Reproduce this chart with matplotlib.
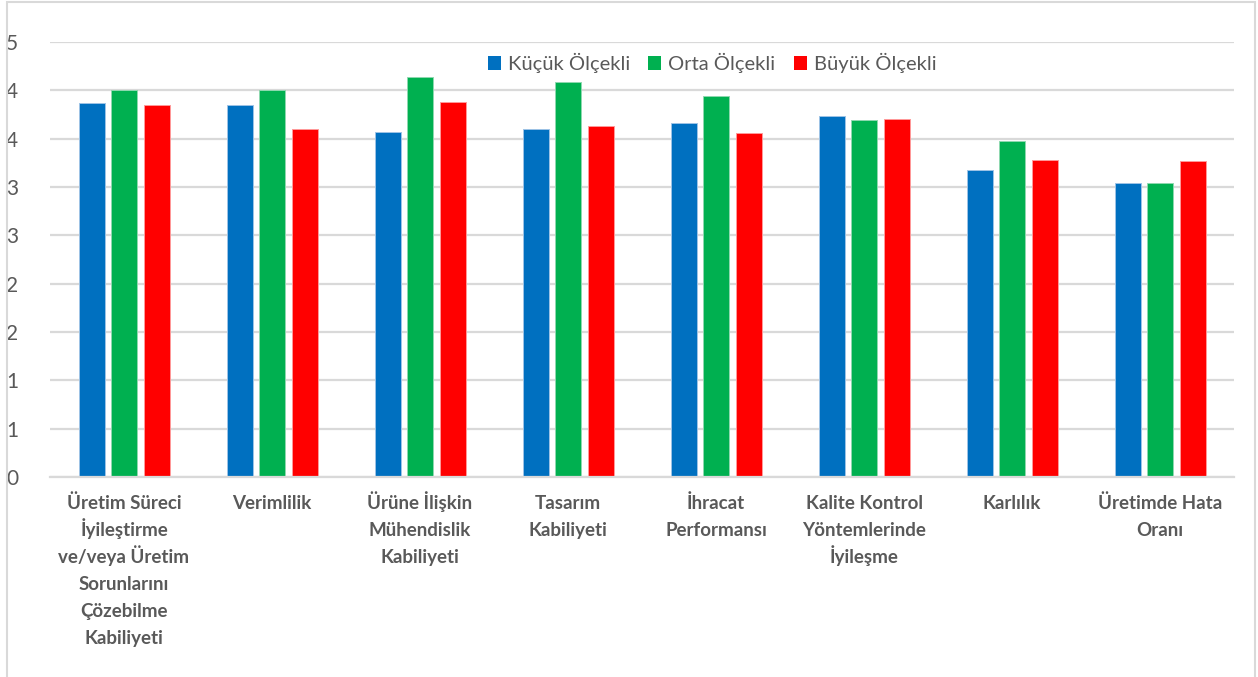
import matplotlib
matplotlib.use("Agg")
import matplotlib.pyplot as plt
from matplotlib.patches import Rectangle, Patch
import numpy as np

categories = [
    "Üretim Süreci\nİyileştirme\nve/veya Üretim\nSorunlarını\nÇözebilme\nKabiliyeti",
    "Verimlilik",
    "Ürüne İlişkin\nMühendislik\nKabiliyeti",
    "Tasarım\nKabiliyeti",
    "İhracat\nPerformansı",
    "Kalite Kontrol\nYöntemlerinde\nİyileşme",
    "Karlılık",
    "Üretimde Hata\nOranı",
]
series_names = ["Küçük Ölçekli", "Orta Ölçekli", "Büyük Ölçekli"]
kucuk = [3.87, 3.85, 3.57, 3.60, 3.66, 3.73, 3.18, 3.04]
orta = [4.00, 4.00, 4.14, 4.09, 3.94, 3.69, 3.48, 3.04]
buyuk = [3.85, 3.60, 3.88, 3.63, 3.56, 3.70, 3.28, 3.27]
ytick_values = [0, 0.5, 1.0, 1.5, 2.0, 2.5, 3.0, 3.5, 4.0, 4.5]
ytick_labels = ["0", "1", "1", "2", "2", "3", "3", "4", "4", "5"]

colors = ["#0070C0", "#00B050", "#FF0000"]
edges = ["#9DC3E6", "#8FD9B0", "#FF9999"]
text_color = "#595959"
grid_color = "#D9D9D9"
font = ["Lato", "DejaVu Sans"]

W, H = 1258, 677
fig = plt.figure(figsize=(W / 100, H / 100), dpi=100)
ax = fig.add_axes([50 / W, (H - 477) / H, (1234 - 50) / W, (477 - 42) / H])

x = np.arange(len(categories))
bw = 26 / 148
off = 32.5 / 148
for i, (vals, c, e) in enumerate(zip([kucuk, orta, buyuk], colors, edges)):
    ax.bar(x + (i - 1) * off, vals, width=bw, color=c, edgecolor=e,
           linewidth=0.7, zorder=3)

ax.set_xlim(-0.5, len(categories) - 0.5)
ax.set_ylim(0, 4.5)
ax.set_yticks(ytick_values)
ax.set_yticklabels(ytick_labels, fontsize=15, color=text_color, family=font)
ax.yaxis.grid(True, color=grid_color, linewidth=1.6, zorder=0)
ax.tick_params(axis="y", length=0, pad=23)
ax.set_xticks(x)
ax.set_xticklabels([])
ax.tick_params(axis="x", length=0)

# category labels, one line at a time for even baseline spacing
line_px = 27
first_px = 32
for xi, label in zip(x, categories):
    for j, line in enumerate(label.split("\n")):
        ax.annotate(line, xy=(xi, 0), xycoords=("data", "axes fraction"),
                    xytext=(0, -(first_px + j * line_px) * 0.72),
                    textcoords="offset points", ha="center", va="baseline",
                    fontsize=13.5, fontweight="bold", color=text_color,
                    family=font, annotation_clip=False)

for s in ["top", "right", "left"]:
    ax.spines[s].set_visible(False)
ax.spines["bottom"].set_color(grid_color)
ax.spines["bottom"].set_linewidth(1.6)
ax.spines["bottom"].set_zorder(4)

handles = [Patch(facecolor=c, edgecolor="none") for c in colors]
fig.legend(handles, series_names, loc="center", bbox_to_anchor=(712 / W, 1 - 63 / H),
           ncol=3, frameon=False, handlelength=0.65, handleheight=0.65,
           handletextpad=0.35, columnspacing=0.9,
           prop={"family": font, "size": 14.5}, labelcolor=text_color)

fig.patches.append(Rectangle((7 / W, -0.05), (1255 - 7) / W, 1.05 - 2 / H,
                             transform=fig.transFigure, fill=False,
                             edgecolor=grid_color, linewidth=1.5))

fig.savefig("out.png", dpi=100, facecolor="white")
